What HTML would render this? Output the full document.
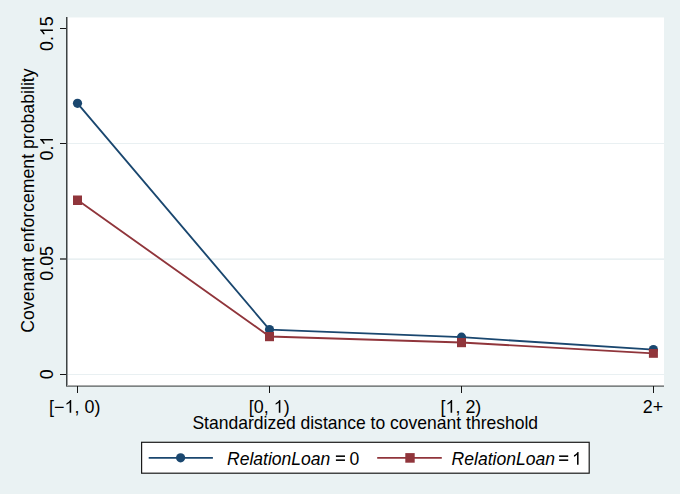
<!DOCTYPE html>
<html><head><meta charset="utf-8"><style>
html,body{margin:0;padding:0;background:#eaf2f3;width:680px;height:494px;overflow:hidden}
svg{display:block}
text{font-family:"Liberation Sans",sans-serif;fill:#000}
.one{fill-opacity:0}
</style></head><body>
<svg width="680" height="494" viewBox="0 0 680 494">
<rect x="0" y="0" width="680" height="494" fill="#eaf2f3"/>
<rect x="67" y="17.5" width="597" height="368" fill="#ffffff"/>
<g shape-rendering="crispEdges">
<rect x="67" y="374" width="597" height="1" fill="#e9f0f2"/>
<rect x="67" y="258" width="597" height="1" fill="#f0f5f6"/>
<rect x="67" y="259" width="597" height="1" fill="#e9f0f2"/>
<rect x="67" y="143" width="597" height="1" fill="#e9f0f2"/>
<rect x="66" y="17" width="1" height="370" fill="#3d4343"/>
<rect x="67" y="17" width="1" height="368" fill="#9a9d9e"/>
<rect x="67" y="385" width="597" height="1" fill="#a9aaaa"/>
<rect x="66" y="386" width="598" height="1" fill="#7c8282"/>
</g>
<g fill="#151515" shape-rendering="crispEdges">
<rect x="60" y="28" width="6" height="1"/>
<rect x="60" y="143" width="6" height="1"/>
<rect x="60" y="258" width="6" height="2" fill="#636868"/>
<rect x="60" y="374" width="6" height="1"/>
<rect x="77" y="386" width="1" height="7"/>
<rect x="269" y="386" width="1" height="7"/>
<rect x="461" y="386" width="1" height="7"/>
<rect x="653" y="386" width="1" height="7"/>
</g>
<g transform="translate(52.900,379.195) rotate(-90)"><text x="0" y="0" font-size="17.8">0</text></g><g transform="translate(52.900,280.695) rotate(-90)"><text x="0" y="0" font-size="17.8">0.05</text></g><g transform="translate(52.900,160.495) rotate(-90)"><text x="0" y="0" font-size="17.8">0.<tspan class="one">1</tspan></text><path d="M763 0H583V1147Q518 1085 412 1023Q307 961 223 930V1104Q374 1175 487 1276Q600 1377 647 1472H763Z" transform="translate(14.845,0) scale(0.008691,-0.008691)"/></g><g transform="translate(52.900,50.995) rotate(-90)"><text x="0" y="0" font-size="17.8">0.<tspan class="one">1</tspan>5</text><path d="M763 0H583V1147Q518 1085 412 1023Q307 961 223 930V1104Q374 1175 487 1276Q600 1377 647 1472H763Z" transform="translate(14.845,0) scale(0.008691,-0.008691)"/></g><g transform="translate(33.700,332.698) rotate(-90)"><text x="0" y="0" font-size="17.68">Covenant enforcement probability</text></g><g transform="translate(49.124,412.800)"><text x="0" y="0" font-size="17.9">[−<tspan class="one">1</tspan>, 0)</text><path d="M763 0H583V1147Q518 1085 412 1023Q307 961 223 930V1104Q374 1175 487 1276Q600 1377 647 1472H763Z" transform="translate(15.427,0) scale(0.008740,-0.008740)"/></g><g transform="translate(248.824,412.800)"><text x="0" y="0" font-size="17.9">[0, <tspan class="one">1</tspan>)</text><path d="M763 0H583V1147Q518 1085 412 1023Q307 961 223 930V1104Q374 1175 487 1276Q600 1377 647 1472H763Z" transform="translate(24.875,0) scale(0.008740,-0.008740)"/></g><g transform="translate(440.524,412.800)"><text x="0" y="0" font-size="17.9">[<tspan class="one">1</tspan>, 2)</text><path d="M763 0H583V1147Q518 1085 412 1023Q307 961 223 930V1104Q374 1175 487 1276Q600 1377 647 1472H763Z" transform="translate(4.973,0) scale(0.008740,-0.008740)"/></g><g transform="translate(642.800,412.800)"><text x="0" y="0" font-size="17.9">2+</text></g><g transform="translate(192.404,428.800)"><text x="0" y="0" font-size="17.52">Standardized distance to covenant threshold</text></g>
<polyline points="77.5,103.3 269.5,329.6 461.5,337.2 653.4,349.6" fill="none" stroke="#1a476f" stroke-width="1.85" stroke-linejoin="round"/>
<g fill="#1a476f">
<circle cx="77.5" cy="103.3" r="4.6"/>
<circle cx="269.5" cy="329.6" r="4.6"/>
<circle cx="461.5" cy="337.2" r="4.6"/>
<circle cx="653.4" cy="349.6" r="4.6"/>
</g>
<polyline points="77.5,200 269.5,336.5 461.5,342.5 653.4,353.4" fill="none" stroke="#90353b" stroke-width="1.85" stroke-linejoin="round"/>
<g fill="#90353b">
<rect x="73" y="195.5" width="9" height="9.5"/>
<rect x="265" y="332" width="9" height="9.2"/>
<rect x="457" y="338" width="9" height="9.2"/>
<rect x="648.9" y="349" width="9" height="8.8"/>
</g>
<rect x="141.6" y="442.3" width="447.6" height="30.9" fill="#fff" stroke="#1a1a1a" stroke-width="1.2"/>
<line x1="148.7" x2="212.9" y1="457.8" y2="457.8" stroke="#1a476f" stroke-width="1.85"/>
<circle cx="180.6" cy="457.8" r="4.6" fill="#1a476f"/>
<line x1="377.2" x2="441.8" y1="457.8" y2="457.8" stroke="#90353b" stroke-width="1.85"/>
<rect x="405.3" y="453.1" width="9.4" height="9.6" fill="#90353b"/>
<g transform="translate(226.960,464.800)"><text x="0" y="0" font-size="17.56"><tspan font-style="italic">RelationLoan</tspan></text></g><g transform="translate(451.560,464.800)"><text x="0" y="0" font-size="17.56"><tspan font-style="italic">RelationLoan</tspan></text></g><rect x="335.9" y="455.4" width="9.1" height="1.55" fill="#000"/><rect x="335.9" y="459.4" width="9.1" height="1.55" fill="#000"/><rect x="559.1" y="455.4" width="9.1" height="1.55" fill="#000"/><rect x="559.1" y="459.4" width="9.1" height="1.55" fill="#000"/><g transform="translate(349.517,464.700)"><text x="0" y="0" font-size="17.56">0</text></g><g transform="translate(572.030,464.700)"><text x="0" y="0" font-size="17.56"><tspan class="one">1</tspan></text><path d="M763 0H583V1147Q518 1085 412 1023Q307 961 223 930V1104Q374 1175 487 1276Q600 1377 647 1472H763Z" transform="translate(0.000,0) scale(0.008574,-0.008574)"/></g></svg>
</body></html>
